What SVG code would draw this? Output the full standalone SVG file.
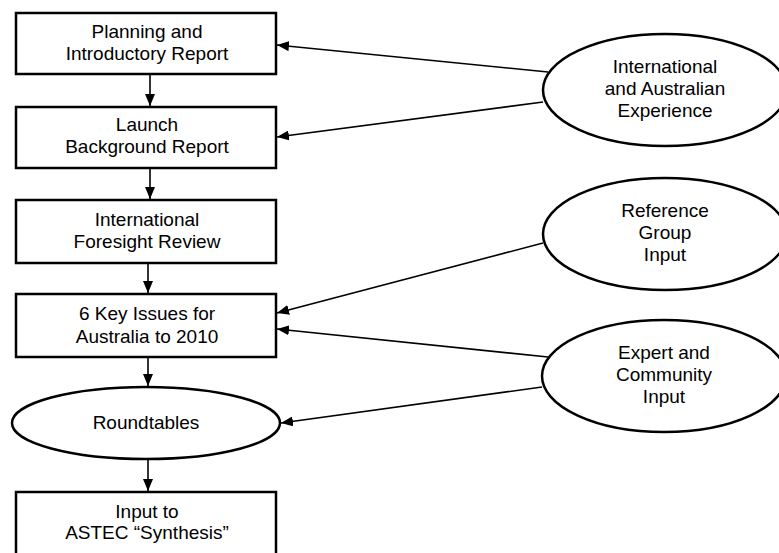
<svg xmlns="http://www.w3.org/2000/svg" width="779" height="553" viewBox="0 0 779 553">
  <style>
    .box { fill: #fff; stroke: #000; stroke-width: 2.5; }
    .oval { fill: #fff; stroke: #000; stroke-width: 2.5; }
    .lbl { font-family: "Liberation Sans", Arial, sans-serif; font-size: 19px; fill: #000; text-anchor: middle; }
    .conn { stroke: #000; stroke-width: 1.6; fill: none; marker-end: url(#ah); }
  </style>
  <defs>
    <marker id="ah" viewBox="0 0 12 10" refX="12" refY="5" markerWidth="12" markerHeight="10" markerUnits="userSpaceOnUse" orient="auto">
      <path d="M0,0 L12,5 L0,10 Z" fill="#000"/>
    </marker>
  </defs>
  <rect width="779" height="553" fill="#fff"/>

  <g id="connectors">
    <line class="conn" x1="150" y1="74" x2="150" y2="106"/>
    <line class="conn" x1="150" y1="168" x2="150" y2="199"/>
    <line class="conn" x1="148" y1="263" x2="148" y2="293"/>
    <line class="conn" x1="148" y1="357" x2="148" y2="386"/>
    <line class="conn" x1="148" y1="460" x2="148" y2="491"/>
    <line class="conn" x1="548" y1="72" x2="277" y2="45"/>
    <line class="conn" x1="543" y1="102" x2="277" y2="137"/>
    <line class="conn" x1="543" y1="243" x2="277" y2="313"/>
    <line class="conn" x1="548" y1="357" x2="277" y2="329"/>
    <line class="conn" x1="542" y1="387" x2="281" y2="423"/>
  </g>

  <g id="planning">
    <rect class="box" x="16" y="13" width="260" height="61"/>
    <text class="lbl" x="147" y="38">Planning and</text>
    <text class="lbl" x="147" y="60">Introductory Report</text>
  </g>
  <g id="launch">
    <rect class="box" x="16" y="107" width="260" height="61"/>
    <text class="lbl" x="147" y="131">Launch</text>
    <text class="lbl" x="147" y="153">Background Report</text>
  </g>
  <g id="foresight">
    <rect class="box" x="16" y="200" width="260" height="63"/>
    <text class="lbl" x="147" y="226">International</text>
    <text class="lbl" x="147" y="248">Foresight Review</text>
  </g>
  <g id="key-issues">
    <rect class="box" x="16" y="294" width="260" height="63"/>
    <text class="lbl" x="147" y="320">6 Key Issues for</text>
    <text class="lbl" x="147" y="343">Australia to 2010</text>
  </g>
  <g id="roundtables">
    <ellipse class="oval" cx="146" cy="423" rx="134" ry="36"/>
    <text class="lbl" x="146" y="429">Roundtables</text>
  </g>
  <g id="synthesis">
    <rect class="box" x="16" y="492" width="260" height="70"/>
    <text class="lbl" x="147" y="518">Input to</text>
    <text class="lbl" x="147" y="539">ASTEC “Synthesis”</text>
  </g>

  <g id="experience">
    <ellipse class="oval" cx="665" cy="90" rx="122" ry="56"/>
    <text class="lbl" x="665" y="73">International</text>
    <text class="lbl" x="665" y="95">and Australian</text>
    <text class="lbl" x="665" y="117">Experience</text>
  </g>
  <g id="reference-group">
    <ellipse class="oval" cx="665" cy="234" rx="122" ry="56"/>
    <text class="lbl" x="665" y="217">Reference</text>
    <text class="lbl" x="665" y="239">Group</text>
    <text class="lbl" x="665" y="261">Input</text>
  </g>
  <g id="expert-community">
    <ellipse class="oval" cx="664" cy="376" rx="122" ry="56"/>
    <text class="lbl" x="664" y="359">Expert and</text>
    <text class="lbl" x="664" y="381">Community</text>
    <text class="lbl" x="664" y="403">Input</text>
  </g>
</svg>
